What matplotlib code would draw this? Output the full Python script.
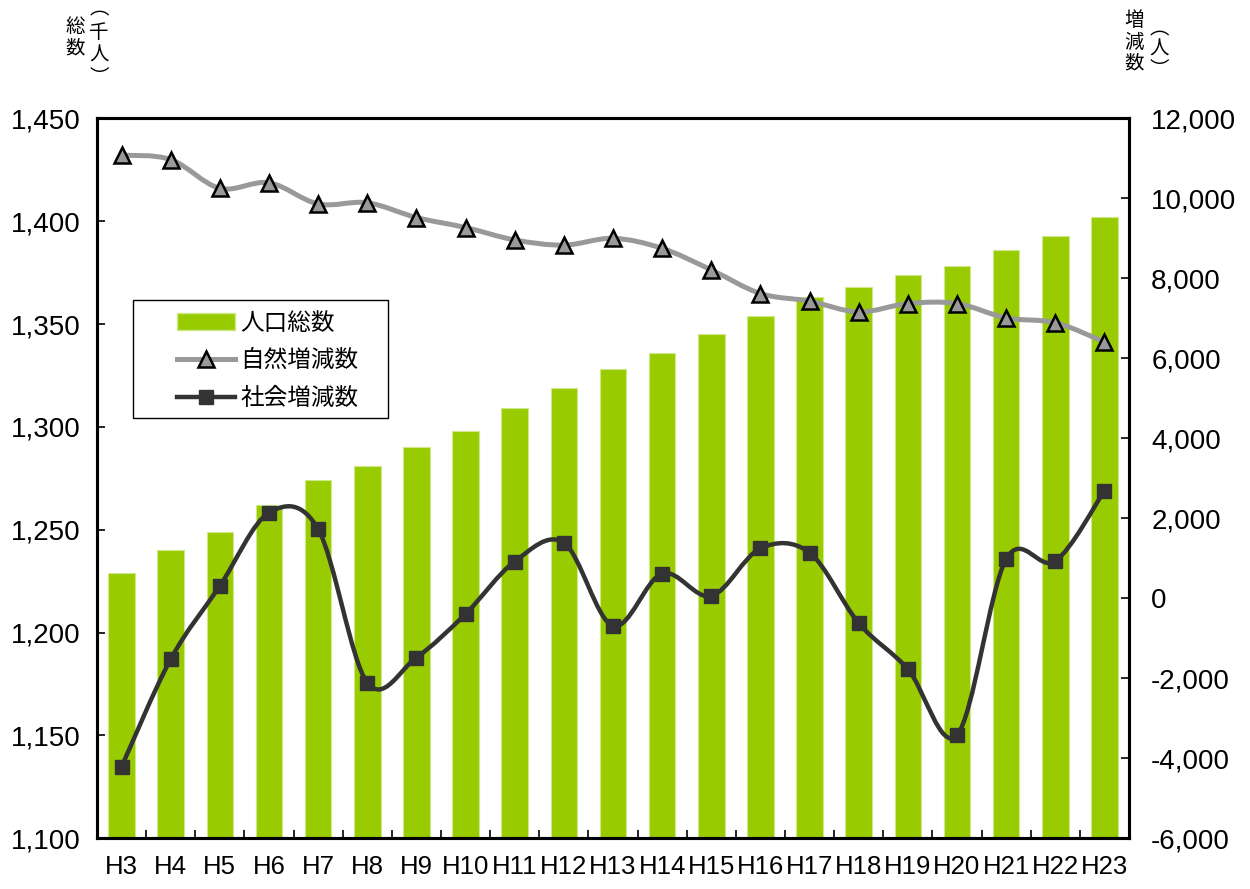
import numpy as np
import matplotlib
matplotlib.use("Agg")
import matplotlib.pyplot as plt
from matplotlib.path import Path
from matplotlib.patches import PathPatch, Patch, Rectangle
from matplotlib.lines import Line2D
from matplotlib.ticker import FuncFormatter, MultipleLocator

plt.rcParams["font.family"] = ["Liberation Sans", "Noto Sans CJK JP", "DejaVu Sans"]
JP = ["Noto Sans CJK JP", "DejaVu Sans"]

years = ["H3", "H4", "H5", "H6", "H7", "H8", "H9", "H10", "H11", "H12", "H13",
         "H14", "H15", "H16", "H17", "H18", "H19", "H20", "H21", "H22", "H23"]
# 人口総数 (千人)
total = [1229, 1240, 1249, 1262, 1274, 1281, 1290, 1298, 1309, 1319, 1328,
         1336, 1345, 1354, 1363, 1368, 1374, 1378, 1386, 1393, 1402]
# 自然増減数 (人)
natural = [11080, 10970, 10250, 10390, 9860, 9890, 9520, 9270, 8960, 8830, 9000,
           8750, 8210, 7620, 7430, 7160, 7370, 7370, 7010, 6890, 6410]
# 社会増減数 (人)
social = [-4210, -1520, 310, 2140, 1730, -2110, -1480, -390, 920, 1390, -690,
          620, 60, 1250, 1140, -620, -1770, -3420, 980, 930, 2690]

GREEN, GREY, DARK = "#99cc00", "#999999", "#333333"


def smooth_path(xs, ys):
    # Excel style smoothed line: cubic Bezier through each point (Catmull-Rom tangents)
    p = np.column_stack([xs, ys]).astype(float)
    n = len(p)
    verts, codes = [p[0]], [Path.MOVETO]
    for i in range(n - 1):
        a = p[i - 1] if i > 0 else p[i]
        d = p[i + 2] if i + 2 < n else p[i + 1]
        c1 = p[i] + (p[i + 1] - a) / 6
        c2 = p[i + 1] - (d - p[i]) / 6
        verts += [c1, c2, p[i + 1]]
        codes += [Path.CURVE4] * 3
    return Path(verts, codes)


fig = plt.figure(figsize=(12.5, 8.89), dpi=100)
ax = fig.add_axes([0.0776, 0.057, 0.8256, 0.8099])
ax2 = ax.twinx()

x = np.arange(len(years))
ax.bar(x, total, width=0.54, color=GREEN, edgecolor="#cfe88a", linewidth=0.8, zorder=2)
ax.set_xlim(-0.5, len(years) - 0.5)
ax.set_ylim(1100, 1450)
ax.yaxis.set_major_locator(MultipleLocator(50))
ax.yaxis.set_major_formatter(FuncFormatter(lambda v, _: f"{v:,.0f}"))

ax2.set_ylim(-6000, 12000)
ax2.yaxis.set_major_locator(MultipleLocator(2000))
ax2.yaxis.set_major_formatter(FuncFormatter(lambda v, _: f"{v:,.0f}"))

ax2.add_patch(PathPatch(smooth_path(x, natural), fill=False, edgecolor=GREY, lw=3.6, zorder=3))
ax2.plot(x, natural, ls="none", marker="^", ms=11, mfc=GREY, mec="black", mew=1.8, zorder=4)
ax2.add_patch(PathPatch(smooth_path(x, social), fill=False, edgecolor=DARK, lw=3.2, zorder=3))
ax2.plot(x, social, ls="none", marker="s", ms=10.5, mfc=DARK, mec=DARK, zorder=4)

ax.set_xticks(x)
ax.set_xticklabels(years)
ax.set_xticks(x[:-1] + 0.5, minor=True)
ax.tick_params(axis="x", which="major", length=0, pad=12, labelsize=18.5)
ax.tick_params(axis="x", which="minor", direction="in", length=6, width=1.2)
ax.tick_params(axis="y", direction="in", length=6, width=1.2, pad=12, labelsize=20)
ax2.tick_params(axis="y", direction="in", length=6, width=1.2, pad=16, labelsize=20)
for a in (ax, ax2):
    for s in a.spines.values():
        s.set_linewidth(2.2)

# legend: entries without frame, frame drawn separately to match the wide left margin
handles = [Patch(facecolor=GREEN, edgecolor="#cfe88a"),
           Line2D([], [], color=GREY, lw=3.6, marker="^", ms=11, mfc=GREY, mec="black", mew=1.8),
           Line2D([], [], color=DARK, lw=3.2, marker="s", ms=10.5, mfc=DARK, mec=DARK)]
ax2.legend(handles, ["人口総数", "自然増減数", "社会増減数"], loc="upper left",
           bbox_to_anchor=(172 / 1250, 1 - 307 / 889), bbox_transform=fig.transFigure,
           borderaxespad=0, frameon=False, prop={"family": JP, "size": 17},
           handlelength=2.45, labelspacing=0.62, handletextpad=0.25, borderpad=0.2)
fig.patches.append(Rectangle((133 / 1250, 1 - 418 / 889), 255 / 1250, 118 / 889,
                             transform=fig.transFigure, fill=False, edgecolor="black",
                             lw=1.0, zorder=5))

# vertical axis titles
def column(chars, xpx, ypx, step=21):
    for i, c in enumerate(chars):
        fig.text(xpx / 1250, 1 - (ypx + i * step) / 889, c, ha="center", va="center",
                 family=JP, fontsize=14)

column(["総", "数"], 75, 27)
column(["︵", "千", "人", "︶"], 99, 9, step=23)
column(["増", "減", "数"], 1134, 21)
column(["︵", "人", "︶"], 1159, 29, step=20)

fig.savefig("out.png", dpi=100)
